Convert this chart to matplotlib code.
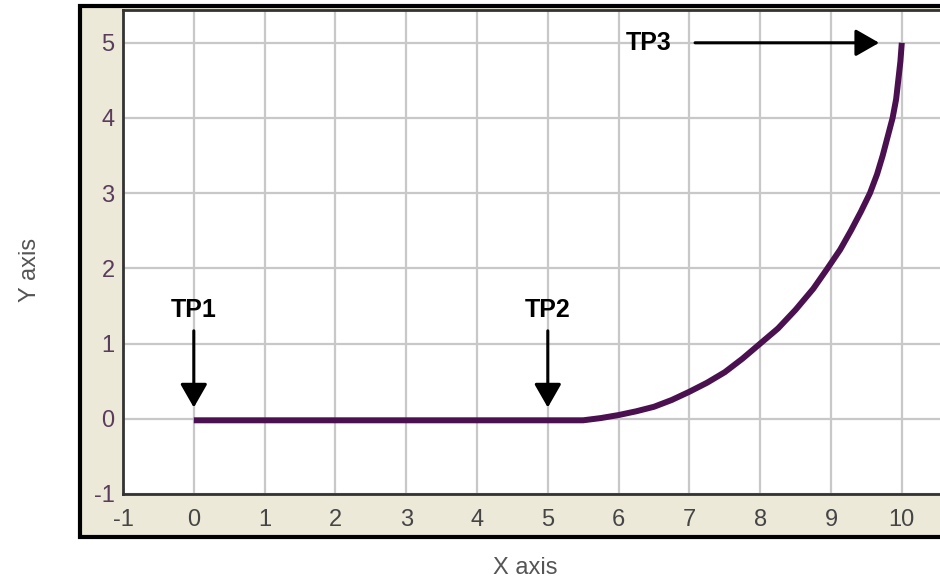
import numpy as np
import matplotlib
matplotlib.use("Agg")
import matplotlib.pyplot as plt
from matplotlib.patches import Rectangle

# curve
curve_x = [0.0, 5.5, 5.75, 6.0, 6.25, 6.5, 6.75, 7.0, 7.25, 7.5, 7.75, 8.0, 8.25,
           8.5, 8.75, 8.95, 9.13, 9.28, 9.42, 9.55, 9.65, 9.73, 9.8, 9.87, 9.92,
           9.95, 9.98, 10.0]
curve_y = [-0.02, -0.02, 0.01, 0.05, 0.1, 0.16, 0.25, 0.36, 0.48, 0.62, 0.8, 1.0, 1.2,
           1.45, 1.73, 2.0, 2.25, 2.5, 2.75, 3.0, 3.25, 3.5, 3.75, 4.0, 4.25,
           4.5, 4.75, 5.0]

x_ticks = list(range(-1, 12))
y_ticks = list(range(-1, 6))

# turning point labels: (name, text position, arrow tip)
tp_names = ["TP1", "TP2", "TP3"]
tp_text = [(0.0, 1.45), (5.0, 1.45), (6.43, 5.0)]
tp_start = [(0.0, 1.17), (5.0, 1.17), (7.08, 5.0)]
tp_tip = [(0.0, 0.15), (5.0, 0.15), (9.68, 5.0)]

plt.rcParams['font.family'] = ['Liberation Sans', 'DejaVu Sans']

fig = plt.figure(figsize=(9.4, 5.81), dpi=100)
fig.patch.set_facecolor("white")

# beige panel behind the plot
panel = Rectangle((80 / 940, 44 / 581), 1.0, 531 / 581, transform=fig.transFigure,
                  facecolor="#ECE9D8", edgecolor="black", linewidth=3, zorder=-1)
fig.patches.append(panel)

ax = fig.add_axes([123 / 940, 87 / 581, 12.3 * 70.8 / 940, 6.44 * 75.2 / 581])
ax.set_zorder(1)
ax.set_facecolor("white")
ax.set_xlim(-1, 11.3)
ax.set_ylim(-1, 5.44)
ax.set_xticks(x_ticks)
ax.set_yticks(y_ticks)
ax.set_xticklabels([str(v) for v in x_ticks])
ax.set_yticklabels([str(v) for v in y_ticks])
ax.tick_params(length=0, labelsize=17)
ax.tick_params(axis="x", pad=11, labelcolor="#454545")
ax.tick_params(axis="y", pad=6, labelcolor="#5a3c5c")
ax.grid(True, color="#c8c8c8", linewidth=1.6)
ax.set_axisbelow(True)
for s in ax.spines.values():
    s.set_color("#333333")
    s.set_linewidth(2)

ax.plot(curve_x, curve_y, color="#4a1050", linewidth=4.3, solid_capstyle="butt",
        solid_joinstyle="round", zorder=3)

for name, tpos, start, tip in zip(tp_names, tp_text, tp_start, tp_tip):
    ax.text(tpos[0], tpos[1], name, ha="center", va="center", fontsize=18,
            fontweight="bold", color="black", fontstretch="condensed",
            family=['Liberation Sans Narrow', 'Liberation Sans', 'DejaVu Sans'], zorder=4)
    ax.annotate("", xy=tip, xytext=start,
                arrowprops=dict(arrowstyle="-|>,head_length=14.5,head_width=8.3",
                                mutation_scale=1, color="black", lw=2.2,
                                shrinkA=0, shrinkB=0), zorder=4)

fig.text(30 / 940, 311 / 581, "Y axis", rotation=90, ha="center", va="center",
         fontsize=17, color="#555555")
fig.text(525 / 940, 13 / 581, "X axis", ha="center", va="center",
         fontsize=17, color="#555555")

fig.savefig("out.png", dpi=100)
